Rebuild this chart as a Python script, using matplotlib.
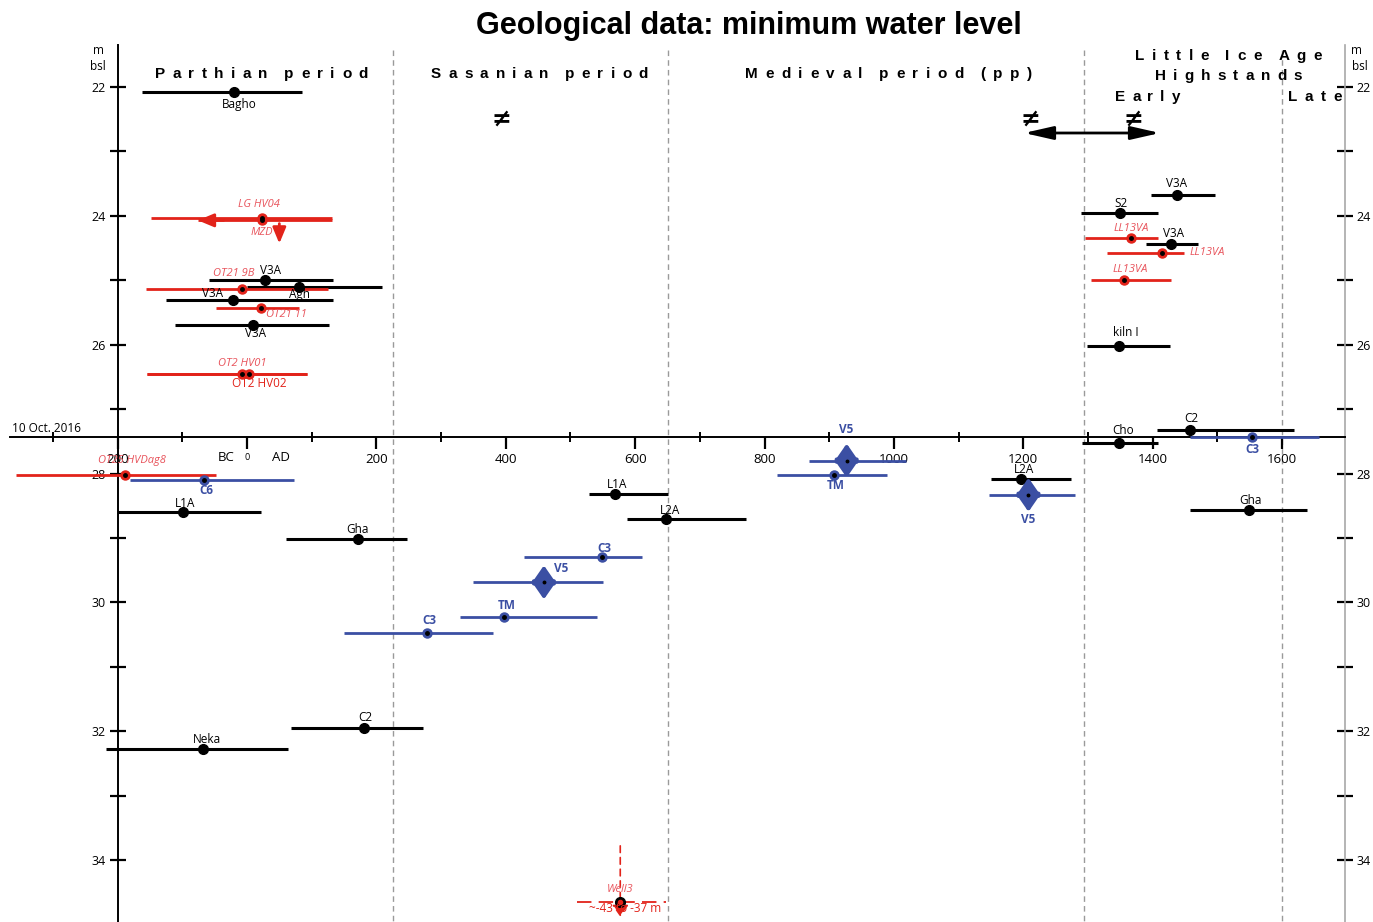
import matplotlib
matplotlib.use('Agg')
import matplotlib.pyplot as plt

plt.rcParams['font.family'] = ['Open Sans', 'DejaVu Sans']

W, H = 1373, 922

# ---- data (years AD, negative = BC; depth in m below sea level) ----
black_labels = ['Bagho', 'V3A', 'Agh', 'V3A', 'V3A', 'V3A', 'S2', 'V3A', 'kiln I', 'C2',
                'Cho', 'L2A', 'Gha', 'L1A', 'L2A', 'L1A', 'Gha', 'C2', 'Neka']
black_year = [-20, 28, 80, -21, 10, 1437, 1349, 1428, 1348, 1458,
              1348, 1196, 1549, 569, 648, -99, 171, 181, -68]
black_from = [-162, -59, 0, -125, -111, 1397, 1289, 1390, 1298, 1406,
              1291, 1150, 1458, 528, 587, -199, 60, 68, -218]
black_to = [85, 133, 209, 133, 126, 1496, 1408, 1470, 1427, 1618,
            1408, 1274, 1638, 651, 771, 21, 248, 272, 64]
black_depth = [22.07, 25.00, 25.10, 25.30, 25.69, 23.67, 23.96, 24.43, 26.02, 27.32,
               27.52, 28.08, 28.56, 28.32, 28.71, 28.59, 29.01, 31.95, 32.28]

red_labels = ['LG HV04', 'MZD', 'OT21 9B', 'OT21 11', 'OT2 HV01', 'OT2 HV02',
              'LL13VA', 'LL13VA', 'LL13VA', 'OT25 HVDag8']
red_year = [23, 23, -8, 22, -8, 3, 1367, 1415, 1356, -189]
red_from = [-148, -76, -156, -48, -155, -155, 1295, 1329, 1305, -357]
red_to = [132, 132, 125, 80, 93, 93, 1408, 1448, 1429, -48]
red_depth = [24.03, 24.07, 25.13, 25.43, 26.45, 26.45, 24.35, 24.58, 24.99, 28.02]

blue_labels = ['C3', 'V5', 'V5', 'TM', 'C3', 'V5', 'TM', 'C3', 'C6']
blue_year = [1553, 1208, 927, 908, 549, 459, 398, 279, -66]
blue_from = [1458, 1147, 869, 820, 428, 349, 329, 150, -181]
blue_to = [1657, 1280, 1019, 990, 610, 550, 541, 380, 72]
blue_depth = [27.44, 28.33, 27.80, 28.02, 29.30, 29.69, 30.23, 30.47, 28.10]

# MZD: maximum depth arrow ; Well3: depth range ~-43 to -37 m
mzd_down_year = 50
mzd_down_depth = [24.12, 24.43]
well_year, well_from, well_to, well_depth = 577, 510, 647, 34.65
well_vert_depth = [33.78, 34.88]

period_bounds = [226, 651, 1294, 1600]
present_level = 27.43

# label offsets (pixels, y up)
black_off = [(5, -13), (5, 10), (1, -8), (-21, 6), (2, -9), (0, 11), (1, 10), (3, 10), (7, 13),
             (1, 11), (4, 12), (3, 9), (1, 9), (2, 10), (4, 9), (2, 8), (0, 9), (1, 10), (4, 10)]
red_off = [(-3, 13), (0, -12), (-8, 15), (25, -7), (0, 10), (10, -10), (0, 10), (45, 1), (6, 10), (7, 14)]
blue_off = [(1, -12), (0, -25), (0, 31), (1, -11), (2, 9), (17, 14), (2, 12), (2, 12), (2, -11)]

RED = '#e2231a'
RED_TXT = '#e8545c'
BLUE = '#3b4fa3'
GRAY = '#9a9a9a'


def fpos(x, y):
    return x / W, 1 - y / H


fig = plt.figure(figsize=(W / 100, H / 100), dpi=100)
ax = fig.add_axes([0, 0, 1, 1])
ax.set_xlim(-381.8, 1740.6)
ax.set_ylim(34.962, 20.6495)

top_depth = 21.35
ax.spines['top'].set_visible(False)
ax.spines['left'].set_position(('data', -200))
ax.spines['left'].set_bounds(top_depth, 34.962)
ax.spines['left'].set_linewidth(1.4)
ax.spines['right'].set_position(('data', 1697))
ax.spines['right'].set_bounds(top_depth, 34.962)
ax.spines['right'].set_color('#a8a8a8')
ax.spines['right'].set_linewidth(1.2)
ax.spines['bottom'].set_position(('data', present_level))
ax.spines['bottom'].set_bounds(-366, 1697)
ax.spines['bottom'].set_linewidth(1.4)

ax.set_yticks(range(22, 35, 2))
ax.set_yticks(range(23, 34, 2), minor=True)
ax.yaxis.set_ticks_position('both')
ax.tick_params(axis='y', which='both', direction='inout', length=11, width=1.6,
               labelsize=9, left=True, right=True, labelleft=True, labelright=True, pad=3)

xt = list(range(-200, 1601, 200))
ax.set_xticks(xt)
ax.set_xticklabels([str(abs(v)) for v in xt])
ax.set_xticks(range(-300, 1501, 200), minor=True)
ax.tick_params(axis='x', which='major', direction='out', length=8.5, width=1.6, labelsize=9.5, pad=3)
ax.tick_params(axis='x', which='minor', direction='inout', length=6.5, width=1.4)
ax.get_xticklabels()[1].set_fontsize(6.5)

# period separators
ax.vlines(period_bounds, 21.43, 34.962, colors=GRAY, linestyles=(0, (4, 3)), lw=1, zorder=1)

# black series
ax.hlines(black_depth, black_from, black_to, colors='black', lw=2.2, zorder=3)
ax.plot(black_year, black_depth, 'o', color='black', ms=7, zorder=4)
for lbl, x, d, (dx, dy) in zip(black_labels, black_year, black_depth, black_off):
    ax.annotate(lbl, (x, d), xytext=(dx, dy), textcoords='offset pixels',
                ha='center', va='center', fontsize=8.5, color='black', zorder=5)

# red series
ax.hlines(red_depth, red_from, red_to, colors=RED, lw=2, zorder=3)
ax.plot(red_year, red_depth, 'o', color=RED, ms=6.5, zorder=4)
ax.plot(red_year, red_depth, 'o', color='black', ms=2.5, zorder=5)
for lbl, x, d, (dx, dy) in zip(red_labels, red_year, red_depth, red_off):
    if lbl == 'OT2 HV02':
        ax.annotate(lbl, (x, d), xytext=(dx, dy), textcoords='offset pixels',
                    ha='center', va='center', fontsize=8.5, color=RED, zorder=5)
    else:
        ax.annotate(lbl, (x, d), xytext=(dx, dy), textcoords='offset pixels',
                    ha='center', va='center', fontsize=8, color=RED_TXT,
                    style='italic', zorder=5)

# MZD arrows (older than / deeper than)
thin_head = dict(arrowstyle='-|>,head_length=0.6,head_width=0.25', color=RED,
                 lw=2, shrinkA=0, shrinkB=0, mutation_scale=16)
ax.annotate('', xy=(red_from[1], red_depth[1]), xytext=(red_from[1] + 40, red_depth[1]),
            arrowprops=thin_head, zorder=4)
ax.annotate('', xy=(mzd_down_year, mzd_down_depth[1]), xytext=(mzd_down_year, mzd_down_depth[0]),
            arrowprops=thin_head, zorder=4)

# Well3
ax.hlines(well_depth, well_from, well_to, colors=RED, lw=1.3, linestyles=(0, (8, 4)), zorder=3)
ax.annotate('', xy=(well_year, well_vert_depth[1]), xytext=(well_year, well_vert_depth[0]),
            arrowprops=dict(arrowstyle='-|>,head_length=0.5,head_width=0.35', color=RED,
                            lw=1.2, ls=(0, (4, 3)), shrinkA=0, shrinkB=0, mutation_scale=14), zorder=3)
ax.plot(well_year, well_depth, 'o', color='black', ms=7, zorder=4)
ax.plot(well_year, well_depth, 'o', color=RED, ms=3, zorder=5)
ax.annotate('Well3', (well_year, well_depth), xytext=(0, 12), textcoords='offset pixels',
            ha='center', va='center', fontsize=8, color=RED_TXT, style='italic', zorder=5)
ax.annotate('~-43 to -37 m', (well_year, well_depth), xytext=(5, -7), textcoords='offset pixels',
            ha='center', va='center', fontsize=8.5, color=RED, zorder=5)

# blue series
ax.hlines(blue_depth, blue_from, blue_to, colors=BLUE, lw=2, zorder=3)
for lbl, x, d in zip(blue_labels, blue_year, blue_depth):
    if lbl == 'V5':
        # range marker: double-headed vertical arrow
        for sgn in (1, -1):
            ax.annotate('', xy=(x, d), xytext=(0, 17 * sgn), textcoords='offset pixels',
                        arrowprops=dict(arrowstyle='<|-,head_length=0.65,head_width=0.45',
                                        color=BLUE, lw=3, shrinkA=0, shrinkB=0,
                                        mutation_scale=16), zorder=4)
        ax.plot(x, d, 'o', color=BLUE, ms=4.5, zorder=5)
        ax.plot(x, d, 'o', color='black', ms=1.8, zorder=6)
    else:
        ax.plot(x, d, 'o', color=BLUE, ms=6.5, zorder=4)
        ax.plot(x, d, 'o', color='black', ms=2.5, zorder=5)
for lbl, x, d, (dx, dy) in zip(blue_labels, blue_year, blue_depth, blue_off):
    ax.annotate(lbl, (x, d), xytext=(dx, dy), textcoords='offset pixels',
                ha='center', va='center', fontsize=8.5, color=BLUE, weight='bold', zorder=5)

# axis texts
ax.annotate('10 Oct. 2016', (-366, present_level), xytext=(2, 8), textcoords='offset pixels',
            ha='left', va='center', fontsize=8.5)
ax.annotate('BC', (-32, present_level), xytext=(0, -21), textcoords='offset pixels',
            ha='center', va='center', fontsize=9.5)
ax.annotate('AD', (53, present_level), xytext=(0, -21), textcoords='offset pixels',
            ha='center', va='center', fontsize=9.5)

fig.text(*fpos(98, 50), 'm', ha='center', va='center', fontsize=8.5)
fig.text(*fpos(98, 66), 'bsl', ha='center', va='center', fontsize=8.5)
fig.text(*fpos(1357, 50), 'm', ha='center', va='center', fontsize=8.5)
fig.text(*fpos(1360, 66), 'bsl', ha='center', va='center', fontsize=8.5)

# title and period headers
fig.text(*fpos(749, 26), 'Geological data: minimum water level', ha='center', va='center',
         fontsize=22, weight='bold', family='Liberation Sans')

renderer = fig.canvas.get_renderer()


def tracked(x0, x1, y, s, size=11):
    # letter-spaced header spread between pixel x0 and x1
    kw = dict(fontsize=size, weight='bold', family='Liberation Sans', va='center', ha='left')
    widths = []
    for ch in s:
        if ch == ' ':
            widths.append(size * 0.15)
        else:
            t = fig.text(0, 0, ch, **kw)
            widths.append(t.get_window_extent(renderer).width)
            t.remove()
    gap = (x1 - x0 - sum(widths)) / (len(s) - 1)
    xc = x0
    for ch, w in zip(s, widths):
        if ch != ' ':
            fig.text(*fpos(xc, y), ch, **kw)
        xc += w + gap


tracked(155, 368, 74, 'Parthian period')
tracked(431, 648, 74, 'Sasanian period')
tracked(745, 1032, 74, 'Medieval period (pp)')
tracked(1135, 1322, 56, 'Little Ice Age')
tracked(1155, 1302, 76, 'Highstands')
tracked(1115, 1180, 97, 'Early')
tracked(1288, 1342, 97, 'Late')

for xp in (501, 1030, 1133):
    fig.text(*fpos(xp, 119), '≠', ha='center', va='center', fontsize=17, weight='bold',
             family='DejaVu Sans')
ax.annotate('', xy=fpos(1160, 133), xycoords='figure fraction', xytext=fpos(1024, 133),
            textcoords='figure fraction',
            arrowprops=dict(arrowstyle='<|-|>,head_length=1.1,head_width=0.25', color='black',
                            lw=2, shrinkA=0, shrinkB=0, mutation_scale=16))

fig.savefig('out.png', dpi=100)
